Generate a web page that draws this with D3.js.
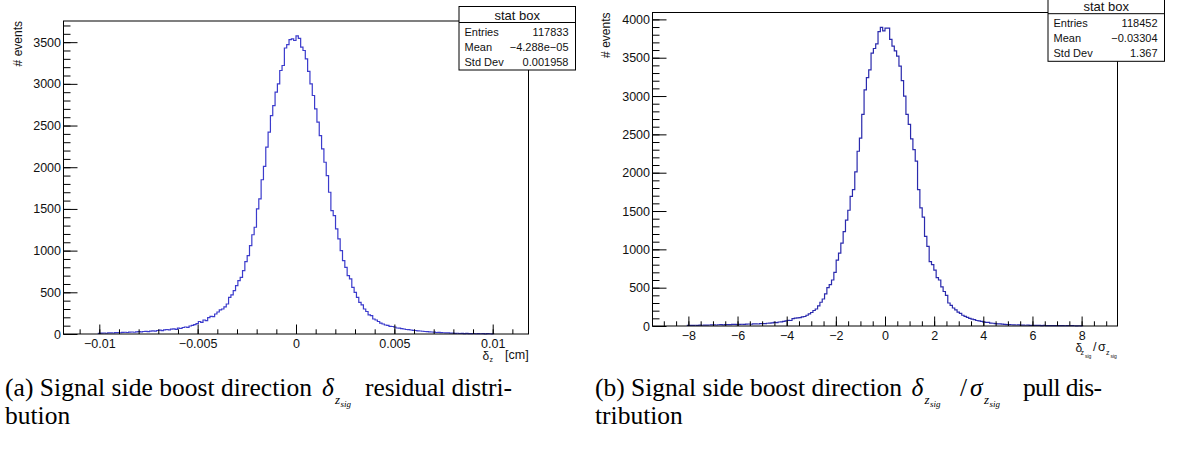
<!DOCTYPE html>
<html>
<head>
<meta charset="utf-8">
<script src="https://cdnjs.cloudflare.com/ajax/libs/d3/7.8.5/d3.min.js"></script>
<style>
  body { margin: 0; background: #fff; }
  svg { display: block; font-family: "Liberation Sans", Arial, sans-serif; }
  .caption { font-family: "Liberation Serif", "Times New Roman", serif; fill: #000; }
</style>
</head>
<body>
<svg width="1178" height="449"></svg>
<script>
// DATA
const nBins = 200;
const firstFilledBin = 15;
const yMinorStep = 100;
const statLabels = ["Entries", "Mean", "Std Dev"];
const statTitle = "stat box";
const yTitle = "# events";

// (a) residual
const residualRange = [-0.01182, 0.01182];
const residualCounts = [
  8, 10, 12, 9, 13, 14, 12, 16, 17, 15,
  19, 21, 18, 22, 24, 21, 26, 28, 25, 30,
  32, 29, 35, 38, 34, 42, 46, 41, 50, 54,
  49, 58, 62, 56, 70, 66, 78, 84, 80, 96,
  104, 112, 124, 150, 140, 168, 160, 196, 212, 208,
  240, 264, 290, 300, 326, 360, 440, 470, 520, 580,
  640, 680, 760, 868, 940, 1060, 1190, 1280, 1500, 1620,
  1850, 2010, 2240, 2420, 2620, 2740, 2900, 3000, 3160, 3220,
  3430, 3470, 3530, 3540, 3520, 3575, 3545, 3440, 3400, 3300,
  3150, 3000, 2860, 2700, 2540, 2380, 2220, 2060, 1900, 1700,
  1480, 1420, 1260, 1140, 1000, 880, 800, 700, 660, 560,
  500, 440, 380, 350, 300, 270, 230, 220, 180, 168,
  150, 130, 120, 108, 104, 92, 90, 84, 72, 70,
  64, 60, 54, 52, 48, 44, 42, 38, 36, 33,
  30, 28, 26, 24, 22, 18, 20, 16, 15, 13,
  14, 10, 11, 8, 9, 6, 8, 5, 7, 5,
  4, 6, 3, 5, 3, 4, 2, 4, 3, 2
];
const residualTicks = [-0.01, -0.005, 0, 0.005, 0.01];
const residualTickLabels = ["\u22120.01", "\u22120.005", "0", "0.005", "0.01"];
const residualMinorStep = 0.001;
const residualYTicks = [0, 500, 1000, 1500, 2000, 2500, 3000, 3500];
const residualStats = ["117833", "\u22124.288e\u221205", "0.001958"];

// (b) pull
const pullRange = [-9.46, 9.46];
const pullCounts = [
  8, 9, 7, 10, 9, 11, 10, 12, 11, 13,
  14, 15, 13, 16, 17, 15, 18, 19, 17, 20,
  21, 19, 22, 23, 21, 24, 26, 23, 27, 28,
  26, 31, 32, 30, 36, 38, 42, 46, 44, 52,
  55, 60, 68, 74, 72, 96, 102, 106, 110, 120,
  124, 140, 158, 176, 202, 222, 262, 310, 352, 420,
  500, 540, 600, 700, 860, 950, 1080, 1230, 1380, 1510,
  1690, 1780, 2010, 2280, 2450, 2760, 3080, 3240, 3340, 3560,
  3620, 3680, 3840, 3895, 3850, 3885, 3885, 3740, 3650, 3590,
  3520, 3390, 3200, 3000, 2760, 2630, 2440, 2300, 2150, 1780,
  1540, 1420, 1170, 1040, 840, 800, 730, 630, 600, 510,
  450, 400, 300, 270, 235, 210, 180, 166, 140, 126,
  113, 100, 90, 84, 72, 68, 60, 55, 48, 46,
  38, 36, 32, 29, 27, 24, 22, 19, 18, 16,
  15, 13, 14, 12, 11, 10, 11, 9, 8, 9,
  7, 8, 6, 7, 6, 5, 6, 5, 4, 5,
  4, 5, 3, 4, 3, 4, 3, 2, 3, 2
];
const pullTicks = [-8, -6, -4, -2, 0, 2, 4, 6, 8];
const pullTickLabels = ["\u22128", "\u22126", "\u22124", "\u22122", "0", "2", "4", "6", "8"];
const pullMinorStep = 0.5;
const pullYTicks = [0, 500, 1000, 1500, 2000, 2500, 3000, 3500, 4000];
const pullStats = ["118452", "\u22120.03304", "1.367"];

// GLOBAL DECLARATIONS
let svg;

setupPage();
drawPanel({
  counts: residualCounts, range: residualRange,
  xTicks: residualTicks, xTickLabels: residualTickLabels, xMinorStep: residualMinorStep,
  yTicks: residualYTicks, stats: residualStats,
  frame: {left: 63.5, top: 21, right: 528.5, bottom: 334},
  color: "#3b3bcc",
  statBox: {x: 459, y: 6.5, w: 116.5, h: 63.5},
  yTitleX: 22
});
drawPanel({
  counts: pullCounts, range: pullRange,
  xTicks: pullTicks, xTickLabels: pullTickLabels, xMinorStep: pullMinorStep,
  yTicks: pullYTicks, stats: pullStats,
  frame: {left: 652.5, top: 12.5, right: 1117.5, bottom: 326},
  color: "#2a2aad",
  statBox: {x: 1048, y: -2.3, w: 116.5, h: 63.6},
  yTitleX: 610
});
drawXTitles();
drawCaptions();

function setupPage(){
  svg = d3.select("svg");
  svg.append("rect").attr("width", 1178).attr("height", 449).attr("fill", "#fff");
}

function drawPanel(p){
  let g = svg.append("g").attr("class", "panel");

  let x = d3.scaleLinear().domain(p.range).range([p.frame.left, p.frame.right]);
  let yMax = d3.max(p.counts) * 1.05;   // ROOT adds 5% headroom
  let y = d3.scaleLinear().domain([0, yMax]).range([p.frame.bottom, p.frame.top]);

  // histogram outline
  let binWidth = (p.range[1] - p.range[0]) / nBins;
  let lo = p.range[0] + firstFilledBin * binWidth;
  let hi = lo + p.counts.length * binWidth;
  let pts = [[lo, 0]];
  p.counts.forEach((c, i) => pts.push([lo + i * binWidth, c]));
  pts.push([hi, p.counts[p.counts.length - 1]]);
  pts.push([hi, 0]);

  let line = d3.line()
    .x(d => x(d[0]))
    .y(d => y(d[1]))
    .curve(d3.curveStepAfter);

  g.append("path")
    .attr("d", line(pts))
    .attr("fill", "none")
    .attr("stroke", p.color)
    .attr("stroke-width", 1.2);

  // x axis: major + minor ticks pointing inward
  let xMinor = d3.range(Math.ceil(p.range[0] / p.xMinorStep), Math.floor(p.range[1] / p.xMinorStep) + 1)
    .map(k => k * p.xMinorStep);
  g.append("g")
    .attr("transform", `translate(0,${p.frame.bottom})`)
    .call(d3.axisBottom(x).tickValues(xMinor).tickFormat("").tickSizeInner(-4.7).tickSizeOuter(0));
  g.append("g")
    .attr("class", "xaxis")
    .attr("transform", `translate(0,${p.frame.bottom})`)
    .call(d3.axisBottom(x).tickValues(p.xTicks).tickFormat((d, i) => p.xTickLabels[i])
      .tickSizeInner(-9.5).tickSizeOuter(0).tickPadding(5));

  // y axis
  let yMinor = d3.range(0, yMax, yMinorStep);
  g.append("g")
    .attr("transform", `translate(${p.frame.left},0)`)
    .call(d3.axisLeft(y).tickValues(yMinor).tickFormat("").tickSizeInner(-7).tickSizeOuter(0));
  g.append("g")
    .attr("class", "yaxis")
    .attr("transform", `translate(${p.frame.left},0)`)
    .call(d3.axisLeft(y).tickValues(p.yTicks).tickFormat(d3.format("d"))
      .tickSizeInner(-14).tickSizeOuter(0).tickPadding(2.5));

  g.selectAll(".domain").remove();
  g.selectAll(".tick line").attr("stroke", "#000");
  g.selectAll(".tick text").attr("fill", "#111")
    .style("font-family", "'Liberation Sans', Arial, sans-serif").style("font-size", "12.5px");

  // frame
  g.append("rect")
    .attr("x", p.frame.left).attr("y", p.frame.top)
    .attr("width", p.frame.right - p.frame.left)
    .attr("height", p.frame.bottom - p.frame.top)
    .attr("fill", "none").attr("stroke", "#000").attr("stroke-width", 1);

  // y title
  g.append("text")
    .attr("transform", `translate(${p.yTitleX},${p.frame.top}) rotate(-90)`)
    .attr("text-anchor", "end")
    .style("font-size", "12px")
    .attr("fill", "#111")
    .text(yTitle);

  // stat box
  let b = p.statBox;
  let sb = g.append("g").attr("class", "statbox");
  sb.append("rect")
    .attr("x", b.x).attr("y", b.y).attr("width", b.w).attr("height", b.h)
    .attr("fill", "#fff").attr("stroke", "#000");
  sb.append("line")
    .attr("x1", b.x).attr("x2", b.x + b.w)
    .attr("y1", b.y + 16).attr("y2", b.y + 16)
    .attr("stroke", "#000");
  sb.append("text")
    .attr("x", b.x + b.w / 2).attr("y", b.y + 13.5)
    .attr("text-anchor", "middle")
    .style("font-size", "13px").attr("fill", "#111")
    .text(statTitle);
  statLabels.forEach(function(lab, i){
    sb.append("text")
      .attr("x", b.x + 5.5).attr("y", b.y + 29 + 15 * i)
      .style("font-size", "11px").attr("fill", "#111")
      .text(lab);
    sb.append("text")
      .attr("x", b.x + b.w - 7).attr("y", b.y + 29 + 15 * i)
      .attr("text-anchor", "end")
      .style("font-size", "11px").attr("fill", "#111")
      .text(p.stats[i]);
  });
}

// HELPER FUNCTIONS

function putPieces(pieces, cls){
  pieces.forEach(function(d){
    let t = svg.append("text")
      .attr("x", d.x).attr("y", d.y)
      .style("font-size", d.size + "px")
      .attr("fill", "#111")
      .text(d.t);
    if (cls) t.attr("class", cls);
    if (d.italic) t.style("font-style", "italic");
    if (d.len) t.attr("textLength", d.len).attr("lengthAdjust", "spacing");
  });
}

function drawXTitles(){
  putPieces([
    {t: "\u03b4", x: 482.5, y: 359.5, size: 12},
    {t: "z", x: 489.5, y: 362, size: 7},
    {t: "[cm]", x: 505, y: 358.5, size: 12.5}
  ]);
  putPieces([
    {t: "\u03b4", x: 1075.5, y: 351.5, size: 12},
    {t: "z", x: 1080.5, y: 355, size: 7},
    {t: "sig", x: 1085, y: 357.5, size: 5},
    {t: "/", x: 1093, y: 351, size: 12.5},
    {t: "\u03c3", x: 1098, y: 351, size: 12.5},
    {t: "z", x: 1106, y: 355, size: 7},
    {t: "sig", x: 1110.5, y: 357.5, size: 5}
  ]);
}

function drawCaptions(){
  const fs = 25.5;
  putPieces([
    {t: "(a) Signal side boost direction", x: 5, y: 396, size: fs, len: 307},
    {t: "\u03b4", x: 322, y: 396, size: fs, italic: true},
    {t: "z", x: 335, y: 404, size: 13, italic: true},
    {t: "sig", x: 340.5, y: 407, size: 9, italic: true},
    {t: "residual distri-", x: 365, y: 396, size: fs, len: 147},
    {t: "bution", x: 5, y: 423.5, size: fs},
    {t: "(b) Signal side boost direction", x: 595, y: 396, size: fs, len: 307},
    {t: "\u03b4", x: 911.5, y: 396, size: fs, italic: true},
    {t: "z", x: 924.5, y: 404, size: 13, italic: true},
    {t: "sig", x: 930, y: 407, size: 9, italic: true},
    {t: "/", x: 960, y: 396, size: fs},
    {t: "\u03c3", x: 970, y: 396, size: fs, italic: true},
    {t: "z", x: 984, y: 404, size: 13, italic: true},
    {t: "sig", x: 989.5, y: 407, size: 9, italic: true},
    {t: "pull dis-", x: 1023, y: 396, size: fs, len: 79},
    {t: "tribution", x: 595, y: 423.5, size: fs}
  ], "caption");
}
</script>
</body>
</html>
